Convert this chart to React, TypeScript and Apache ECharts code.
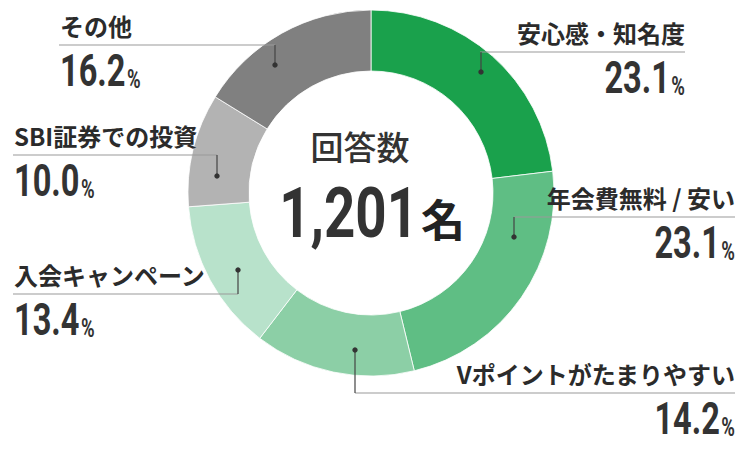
import { useEffect, useRef } from 'react';
import * as echarts from 'echarts';

// 回答データ（上から時計回り）
const categories = ['安心感・知名度', '年会費無料 / 安い', 'Vポイントがたまりやすい', '入会キャンペーン', 'SBI証券での投資', 'その他'];
const shares = [23.1, 23.1, 14.2, 13.4, 10.0, 16.2];
const sliceColors = ['#1aa14c', '#5fbe84', '#8ccfa6', '#b8e2cb', '#b3b3b3', '#808080'];
const totalLabel = '回答数';
const totalCount = '1,201';
const totalUnit = '名';

const CX = 371;
const CY = 193;

/** ラベル配置（レイアウトのみ）: 揃え、文字x、区切り線y、線の端x、ドット位置 */
const LABEL_LAYOUT = [
  { align: 'right', tx: 685, lineY: 52, lineEnd: 480, dot: [481, 72] },
  { align: 'right', tx: 735, lineY: 217, lineEnd: 514, dot: [514, 237] },
  { align: 'right', tx: 735, lineY: 393, lineEnd: 355, dot: [355, 350] },
  { align: 'left', tx: 14, lineY: 294, lineEnd: 238, dot: [238, 270] },
  { align: 'left', tx: 14, lineY: 155, lineEnd: 217, dot: [217, 176] },
  { align: 'left', tx: 60, lineY: 45, lineEnd: 275, dot: [275, 65] },
];

const NUM_FONT = 'Roboto, "DejaVu Sans", sans-serif';
const JP_FONT = '"Noto Sans CJK JP", sans-serif';
const NUM_SQUEEZE = 0.74;

function buildLabels() {
  const els: any[] = [];
  categories.forEach((name, i) => {
    const l = LABEL_LAYOUT[i];
    const [dx, dy] = l.dot;
    const x1 = l.align === 'right' ? l.lineEnd : l.tx - 1;
    const x2 = l.align === 'right' ? l.tx : l.lineEnd;
    // 横線
    els.push({
      type: 'line',
      z: 100,
      shape: { x1, y1: l.lineY, x2, y2: l.lineY },
      style: { stroke: '#9a9a9a', lineWidth: 1.2 },
      silent: true,
    });
    // 縦線 + ドット
    els.push({
      type: 'line',
      z: 100,
      shape: { x1: dx, y1: l.lineY, x2: dx, y2: dy },
      style: { stroke: '#444', lineWidth: 1.2 },
      silent: true,
    });
    els.push({
      type: 'circle',
      z: 101,
      shape: { cx: dx, cy: dy, r: 2.7 },
      style: { fill: '#333' },
      silent: true,
    });
    // 項目名
    els.push({
      type: 'text',
      z: 100,
      x: l.tx,
      y: l.lineY - 20,
      style: {
        text: name,
        align: l.align,
        verticalAlign: 'middle',
        fill: '#2b2b2b',
        font: `bold 24px ${JP_FONT}`,
      },
      silent: true,
    });
    // 割合（縦長の数字書体を横圧縮で近似）
    els.push({
      type: 'text',
      z: 100,
      x: l.tx,
      y: l.lineY + 26,
      scaleX: NUM_SQUEEZE,
      style: {
        text: `{n|${shares[i].toFixed(1)}}{p|%}`,
        align: l.align,
        verticalAlign: 'middle',
        rich: {
          n: { fontFamily: NUM_FONT, fontWeight: 'bold', fontSize: 44, lineHeight: 44, fill: '#333', verticalAlign: 'bottom' },
          p: { fontFamily: NUM_FONT, fontWeight: 'bold', fontSize: 25, lineHeight: 25, fill: '#333', verticalAlign: 'bottom', padding: [0, 0, 1, 2] },
        },
      },
      silent: true,
    });
  });

  // 中央テキスト
  els.push({
    type: 'text',
    z: 100,
    x: CX - 11,
    y: 146,
    style: {
      text: totalLabel,
      align: 'center',
      verticalAlign: 'middle',
      fill: '#333',
      font: `500 33px ${JP_FONT}`,
    },
    silent: true,
  });
  els.push({
    type: 'text',
    z: 100,
    x: 418,
    y: 213,
    scaleX: 0.78,
    style: {
      text: totalCount,
      align: 'right',
      verticalAlign: 'middle',
      fill: '#333',
      font: `bold 70px ${NUM_FONT}`,
    },
    silent: true,
  });
  els.push({
    type: 'text',
    z: 100,
    x: 421,
    y: 218,
    style: {
      text: totalUnit,
      align: 'left',
      verticalAlign: 'middle',
      fill: '#222',
      font: `bold 44px ${JP_FONT}`,
    },
    silent: true,
  });
  return els;
}

export default function App() {
  const ref = useRef<HTMLDivElement>(null);

  useEffect(() => {
    if (!ref.current) return;
    const chart = echarts.init(ref.current, null, { renderer: 'svg' });
    chart.setOption({
      animation: false,
      backgroundColor: '#fff',
      series: [
        {
          type: 'pie',
          z: 2,
          center: [CX, CY],
          radius: [122, 183],
          startAngle: 90,
          clockwise: true,
          label: { show: false },
          labelLine: { show: false },
          emphasis: { disabled: true },
          itemStyle: { borderColor: '#ffffff', borderWidth: 0.8 },
          data: categories.map((name, i) => ({
            name,
            value: shares[i],
            itemStyle: { color: sliceColors[i] },
          })),
        },
      ],
      graphic: buildLabels(),
    });
    return () => chart.dispose();
  }, []);

  return <div ref={ref} style={{ width: 750, height: 451, margin: -8 }} />;
}
